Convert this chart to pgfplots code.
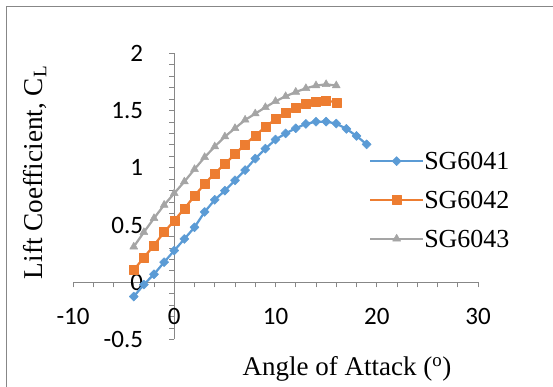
\documentclass[border=0pt]{standalone}
\usepackage{pgfplots}
\pgfplotsset{compat=1.18}
\usepackage{fontspec}
\setmainfont{Liberation Serif}
\newfontfamily\calibri{Carlito}
\definecolor{cblue}{HTML}{5B9BD5}
\definecolor{corange}{HTML}{ED7D31}
\definecolor{cgray}{HTML}{A5A5A5}
\definecolor{axgray}{HTML}{878787}
\newcommand{\legfont}{\fontsize{26}{31}\selectfont}
\begin{document}
\begin{tikzpicture}[x=1pt,y=1pt]
\useasboundingbox (0,0) rectangle (553,387);
\draw[axgray, line width=1pt] (6.7,0) -- (6.7,380.7) -- (553,380.7);
\begin{axis}[
 at={(73pt,47.5pt)}, anchor=south west,
 scale only axis, width=405pt, height=286.2pt,
 xmin=-10, xmax=30, ymin=-0.5, ymax=2,
 enlargelimits=false, clip=false,
 axis lines=middle,
 axis line style={-, draw=axgray, line width=1pt},
 xtick={-10,0,10,20,30}, xticklabels={-10,0,10,20,30},
 ytick={-0.5,0,0.5,1,1.5,2}, yticklabels={-0.5,0,0.5,1,1.5,2},
 minor x tick num=4, minor y tick num=4,
 tick align=outside,
 major tick length=5pt, minor tick length=5pt,
 tick style={draw=axgray, line width=0.8pt},
 hide obscured x ticks=false, hide obscured y ticks=false,
 ticklabel style={font=\calibri\fontsize{25}{30}\selectfont, inner sep=0pt, text=black},
 xticklabel style={anchor=north, yshift=-21pt},
 yticklabel style={anchor=east, xshift=-26pt},
 legend style={draw=none, fill=none, at={(0.7309,0.6537)}, anchor=north west,
   inner sep=0pt, outer sep=0pt,
   row sep=20pt, nodes={inner sep=0pt, anchor=base west},
   /tikz/every even column/.append style={column sep=5pt}},
 legend cell align=left,
 legend image code/.code={\draw[mark repeat=2,mark phase=2,#1] plot coordinates {(0pt,8.5pt) (26.5pt,8.5pt) (53pt,8.5pt)};},
 every axis plot/.append style={line width=2.25pt, line join=round},
]
\addplot[cblue, mark=square*, mark size=3.2pt, mark options={rotate=45, solid, fill=cblue, draw=cblue, line width=0.5pt}] coordinates {
(-4,-0.125) (-3,-0.02) (-2,0.07) (-1,0.175) (0,0.277) (1,0.378) (2,0.48) (3,0.614) (4,0.72) (5,0.80) (6,0.89) (7,0.98) (8,1.08) (9,1.167) (10,1.246) (11,1.30) (12,1.345) (13,1.383) (14,1.403) (15,1.403) (16,1.386) (17,1.34) (18,1.278) (19,1.205)};
\addlegendentry{\legfont SG6041}
\addplot[corange, mark=square*, mark size=4.5pt, mark options={solid, fill=corange, draw=corange, line width=0.5pt}] coordinates {
(-4,0.108) (-3,0.215) (-2,0.323) (-1,0.437) (0,0.539) (1,0.643) (2,0.754) (3,0.859) (4,0.952) (5,1.033) (6,1.12) (7,1.205) (8,1.281) (9,1.357) (10,1.424) (11,1.485) (12,1.528) (13,1.56) (14,1.581) (15,1.587) (16,1.572)};
\addlegendentry{\legfont SG6042}
\addplot[cgray, mark=triangle*, mark size=4.6pt, mark options={solid, fill=cgray, draw=cgray, line width=0.5pt}] coordinates {
(-4,0.31) (-3,0.437) (-2,0.559) (-1,0.675) (0,0.777) (1,0.879) (2,0.987) (3,1.092) (4,1.185) (5,1.272) (6,1.345) (7,1.418) (8,1.473) (9,1.528) (10,1.581) (11,1.624) (12,1.662) (13,1.694) (14,1.718) (15,1.729) (16,1.718)};
\addlegendentry{\legfont SG6043}
\end{axis}
\node[rotate=90, anchor=base, inner sep=0pt, font=\fontsize{27.2}{32}\selectfont] at (42.5,214.5) {Lift Coefficient, C\textsubscript{L}};
\node[anchor=base, inner sep=0pt, font=\fontsize{27}{32}\selectfont] at (347,11) {Angle of Attack (\textsuperscript{o})};
\end{tikzpicture}
\end{document}
